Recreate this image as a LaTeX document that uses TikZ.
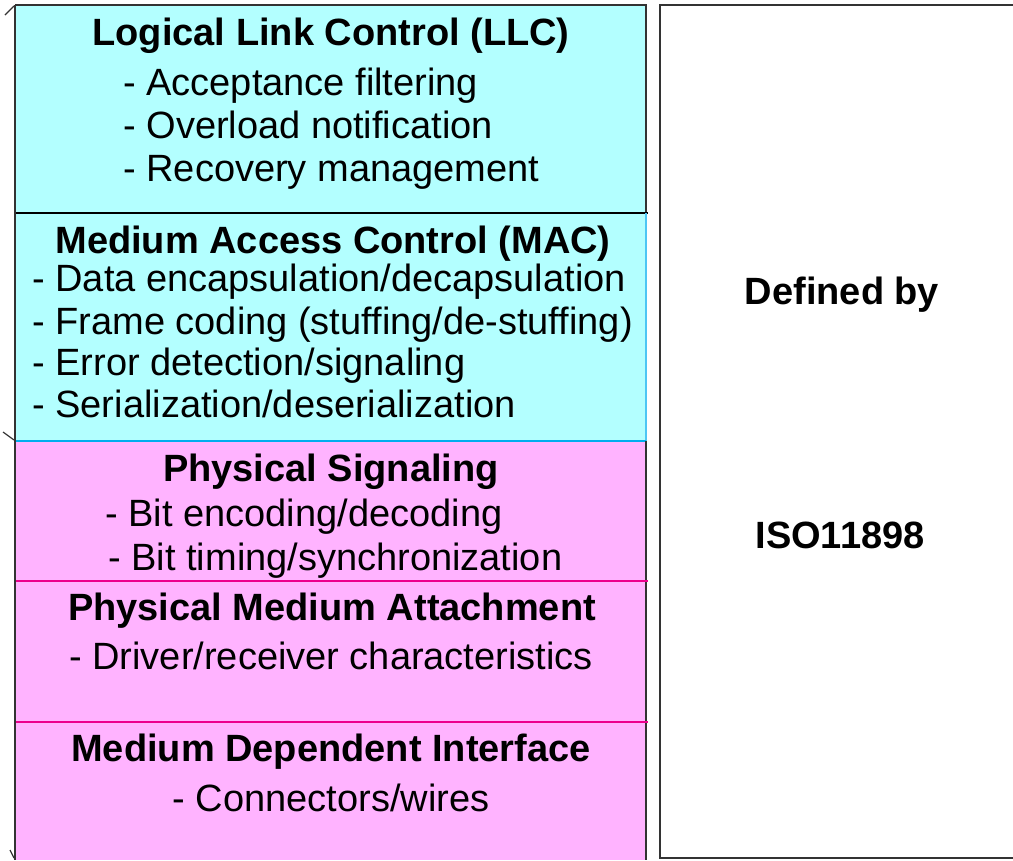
\documentclass[tikz,border=0pt]{standalone}
\usepackage{fontspec}
\setmainfont{Liberation Sans}
\begin{document}
\begin{tikzpicture}[x=0.75pt,y=-0.75pt,
  ttl/.style={font=\fontsize{28.5}{30}\selectfont\bfseries, anchor=base, inner sep=0pt},
  itm/.style={font=\fontsize{28.5}{30}\selectfont, anchor=base west, inner sep=0pt},
  itmc/.style={font=\fontsize{28.5}{30}\selectfont, anchor=base, inner sep=0pt},
  cyanbox/.style={fill=cyanfill},
  pinkbox/.style={fill=pinkfill}]
\definecolor{cyanfill}{HTML}{B3FFFF}
\definecolor{pinkfill}{HTML}{FFB3FF}
\definecolor{edge}{HTML}{333333}
\useasboundingbox (0,0) rectangle (1013,860);
% fills
\fill[cyanbox] (15,5) rectangle (646,441);
\fill[pinkbox] (15,441) rectangle (646,860);
% lines
\draw[edge, line width=1.6pt] (15,5) -- (646,5) -- (646,213);
\draw[black, line width=1.6pt] (15,213) -- (648,213);
\draw[cyan!70!white, line width=1.2pt] (646,213) -- (646,441);
\draw[cyan, line width=1pt] (15,441) -- (646,441);
\draw[edge, line width=1.2pt] (646,441) -- (646,860);
\draw[magenta, line width=0.9pt] (15,581) -- (648,581);
\draw[magenta, line width=0.9pt] (15,722) -- (648,722);
\draw[edge, line width=1.6pt] (15,5) -- (15,860);
% left ticks
\draw[edge, line width=0.9pt] (5,15) -- (14,6);
\draw[edge, line width=0.9pt] (3,432) -- (14,440);
\draw[edge, line width=0.9pt] (10,850) -- (14,858);
% right box
\draw[edge, line width=1.6pt] (1013,5) -- (660,5) -- (660,858) -- (1013,858);
% LLC
\node[ttl] (llc) at (331,45) {Logical Link Control (LLC)};
\node[itm] (llc1) at (123,95) {- Acceptance filtering};
\node[itm] (llc2) at (123,138) {- Overload notification};
\node[itm] (llc3) at (123,181) {- Recovery management};
% MAC
\node[ttl] (mac) at (333,253) {Medium Access Control (MAC)};
\node[itm] (mac1) at (32,291) {- Data encapsulation/decapsulation};
\node[itm] (mac2) at (32,334) {- Frame coding (stuffing/de-stuffing)};
\node[itm] (mac3) at (32,375) {- Error detection/signaling};
\node[itm] (mac4) at (32,417) {- Serialization/deserialization};
% PS
\node[ttl] (ps) at (331,481) {Physical Signaling};
\node[itm] (ps1) at (105,526) {- Bit encoding/decoding};
\node[itm] (ps2) at (108,570) {- Bit timing/synchronization};
% PMA
\node[ttl] (pma) at (332,620) {Physical Medium Attachment};
\node[itmc] (pma1) at (331,669) {- Driver/receiver characteristics};
% MDI
\node[ttl] (mdi) at (331,761) {Medium Dependent Interface};
\node[itmc] (mdi1) at (331,811) {- Connectors/wires};
% right
\node[ttl] (def) at (842,304) {Defined by};
\node[ttl] (iso) at (840,548) {ISO11898};
\end{tikzpicture}
\end{document}
